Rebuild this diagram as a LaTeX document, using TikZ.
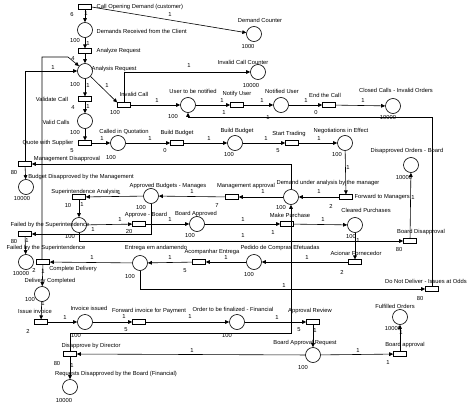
\documentclass[tikz,border=0pt]{standalone}
\usepackage{fontspec}
\setmainfont{Liberation Sans}
\usetikzlibrary{arrows.meta}
\begin{document}
\begin{tikzpicture}[x=1pt,y=-1pt,
  every node/.style={font=\fontsize{5.8}{6.5}\selectfont},
  place/.style={circle,draw,line width=0.6pt,minimum size=15pt,inner sep=0pt},
  trans/.style={rectangle,draw,line width=0.6pt,minimum width=13pt,minimum height=4.5pt,inner sep=0pt},
  arc/.style={draw,line width=0.6pt,-{Triangle[length=4pt,width=3.6pt]}},
  lbl/.style={inner sep=0.5pt},
  num/.style={inner sep=0pt}]
\fill[white] (0,0) rectangle (474,415);
\useasboundingbox (0,0) rectangle (474,415);
% places
\foreach \n/\x/\y in {pDR/85/30,pAR/85/71,pVC/85/121,pDC/254/34,pIC/258/72,pUN/188/105,pNU/281/105,pCC/393/106,pCQ/118/143,pBB/235/143,pNE/345/143,pDM/291/197,pAB/151/196,pBA/197/224,pCP/355/225,pDO/411/165,pSA/79/225,pBD/26/187,pFS/26/262,pEA/140/263,pPC/254/262,pDL/42/294,pII/85/322,pOF/237/322,pBR/313/355,pFO/400/317,pRD/70/387}
  \node[place] (\n) at (\x,\y) {};
% transitions
\foreach \n/\x/\y in {t1/85/7,t2/85/51,t3/85/99,t4/124/105,t5/237/105,t6/329/105,t7/85/143,t8/177/143,t9/292/143,t10/25/164,t11/79/197,t12/25/234,t13/43/262,t14/139/224,t15/232/197,t16/346/197,t17/287/224,t18/410/241,t19/355/262,t20/199/262,t21/41/322,t22/139/322,t23/70/354,t24/313/322,t25/400/354,t26/432/289}
  \node[trans] (\n) at (\x,\y) {};
% labels
\node[lbl,anchor=west] (l1) at (96,7) {Call Opening Demand (customer)};
\node[lbl,anchor=west] (l2) at (96,31) {Demands Received from the Client};
\node[lbl,anchor=west] (l3) at (96,51) {Analyze Request};
\node[lbl,anchor=west] (l4) at (91,69) {Analysis Request};
\node[lbl] (l5) at (52,99) {Validate Call};
\node[lbl] (l6) at (56,122) {Valid Calls};
\node[lbl] (l7) at (260,20) {Demand Counter};
\node[lbl] (l8) at (243,62) {Invalid Call Counter};
\node[lbl] (l9) at (134,94) {Invalid Call};
\node[lbl] (l10) at (193,91) {User to be notified};
\node[lbl] (l11) at (237,94) {Notify User};
\node[lbl] (l12) at (282,91) {Notified User};
\node[lbl] (l13) at (325,95) {End the Call};
\node[lbl] (l14) at (396,90) {Closed Calls - Invalid Orders};
\node[lbl] (l15) at (124,132) {Called in Quotation};
\node[lbl] (l16) at (177,133) {Build Budget};
\node[lbl] (l17) at (237,131) {Build Budget};
\node[lbl] (l18) at (289,134) {Start Trading};
\node[lbl] (l19) at (341,131) {Negotiations in Effect};
\node[lbl] (l20) at (48,143) {Quote with Supplier};
\node[lbl] (l21) at (67,159) {Management Disapproval};
\node[lbl] (l22) at (81,177) {Budget Disapproved by the Management};
\node[lbl] (l23) at (85,192) {Superintendence Analysis};
\node[lbl] (l24) at (50,225) {Failed by the Superintendence};
\node[lbl] (l25) at (46,248) {Failed by the Superintendence};
\node[lbl] (l26) at (73,269) {Complete Delivery};
\node[lbl] (l27) at (50,281) {Delivery Completed};
\node[lbl] (l28) at (35,311) {Issue invoice};
\node[lbl] (l29) at (89,308) {Invoice issued};
\node[lbl] (l30) at (149,311) {Forward invoice for Payment};
\node[lbl] (l31) at (233,309) {Order to be finalized - Financial};
\node[lbl] (l32) at (91,346) {Disapprove by Director};
\node[lbl] (l33) at (116,374) {Requests Disapproved by the Board (Financial)};
\node[lbl] (l34) at (310,311) {Approval Review};
\node[lbl] (l35) at (305,343) {Board Approval Request};
\node[lbl] (l36) at (405,345) {Board approval};
\node[lbl] (l37) at (395,306) {Fulfilled Orders};
\node[lbl] (l38) at (426,281) {Do Not Deliver - Issues at Odds};
\node[lbl] (l39) at (156,248) {Entrega em andamendo};
\node[lbl] (l40) at (212,252) {Acompanhar Entrega};
\node[lbl] (l41) at (280,248) {Pedido de Compras Efetuadas};
\node[lbl] (l42) at (356,253) {Acionar Fornecedor};
\node[lbl] (l43) at (366,210) {Cleared Purchases};
\node[lbl] (l44) at (421,232) {Board Disapproval};
\node[lbl] (l45) at (407,151) {Disapproved Orders - Board};
\node[lbl,anchor=west] (l46) at (354,197) {Forward to Managers};
\node[lbl] (l47) at (328,183) {Demand under analysis by the manager};
\node[lbl] (l48) at (246,186) {Management approval};
\node[lbl] (l49) at (168,186) {Approved Budgets - Manages};
\node[lbl] (l50) at (146,215) {Approve - Board};
\node[lbl] (l51) at (196,214) {Board Approved};
\node[lbl] (l52) at (290,215.5) {Make Purchase};
% arcs
\draw[arc] (t1) -- (pDR);
\draw[arc] (t1.east) -- (pDC);
\draw[arc] (pDR) -- (t2);
\draw[arc] (t2) -- (pAR);
\draw[arc] (pAR) -- (t3);
\draw[arc] (t3) -- (pVC);
\draw[arc] (pVC) -- (t7);
\draw[arc] (t7) -- (pCQ);
\draw[arc] (pCQ) -- (t8);
\draw[arc] (t8) -- (pBB);
\draw[arc] (pBB) -- (t9);
\draw[arc] (t9) -- (pNE);
\draw[arc] (pNE) -- (t16);
\draw[arc] (t16) -- (pDM);
\draw[arc] (pDM) -- (t15);
\draw[arc] (t15) -- (pAB);
\draw[arc] (pAB) -- (t11);
\draw[arc] (t11) -- (pSA);
\draw[arc] (pSA) -- (t14);
\draw[arc] (t14) -- (pBA);
\draw[arc] (pBA) -- (t17);
\draw[arc] (t17) -- (pCP);
\draw[arc] (pCP) -- (t19);
\draw[arc] (t19) -- (pPC);
\draw[arc] (pPC) -- (t20);
\draw[arc] (t20) -- (pEA);
\draw[arc] (pEA) -- (t13);
\draw[arc] (t13) -- (pDL);
\draw[arc] (pDL) -- (t21);
\draw[arc] (t21) -- (pII);
\draw[arc] (pII) -- (t22);
\draw[arc] (t22) -- (pOF);
\draw[arc] (pOF) -- (t24);
\draw[arc] (t24) -- (pBR);
\draw[arc] (pBR) -- (t25);
\draw[arc] (pBR) -- (t23);
\draw[arc] (t25) -- (pFO);
\draw[arc] (t23) -- (pRD);
\draw[arc] (t18) -- (pDO);
\draw[arc] (t10) -- (pBD);
\draw[arc] (t12) -- (pFS);
\draw[arc] (pAR) -- (t4.north west);
\draw[arc] (t4) -- (pUN);
\draw[arc] (pUN) -- (t5);
\draw[arc] (t5) -- (pNU);
\draw[arc] (pNU) -- (t6);
\draw[arc] (t6) -- (pCC);
\draw[arc] (t4.north) |- (pIC.west);
\draw[arc] (pEA.south) |- (t26.west);
\draw[arc] (t26.north) -- (t26.north |- 0,117) -| (pUN.south);
\draw[arc] (t23.north) -- (t23.north |- 0,333) -| (pDM.south);
\draw[arc] (pDM.north) |- (t10.east);
\draw[arc] (pSA.south) |- (t18.west);
\draw[arc] (pAB.south) |- (t12.east);
\draw[arc] (t10.north) |- (pAR.west);
\coordinate (cB) at (68,57);
\draw[arc] (t13.north -| 42,0) -- (42,57) -- (cB) -- (pAR);
% weights and numbers
\foreach \x/\y/\t [count=\i] in {86/14/1,170/15/1,88/44/1,73/59/4,53/68/1,88/86/1,107/86/1,88/107/1,189/66/1,157/101/1,222/101/1,262/101/1,306/101/1,363/101/1,224/113/1,268/118/1,102/139/1,150/139/1,209/139/1,266/139/1,319/139/1,348/168/1,319/192/1,263/192/1,192/192/1,119/193/1,82/205/1,120/220/1,93/230/1,27/241/1,170/220/1,243/220/1,323/220/1,243/236/1,273/233/1,358/241/1,413/198/1,307/258/1,226/258/1,170/258/1,92/258/1,43/272/1,43/304/1,65/318/1,124/317/1,190/317/1,277/318/1,315/331/1,284/286/1,192/351/1,358/351/1,72/366/1,401/333/1}
  \node[num] (w\i) at (\x,\y) {\t};
\foreach \x/\y/\t [count=\i] in {72/15/6,75/41/100,75/85/100,75/133/100,248/47/1000,251/86/10000,173/117/100,388/118/10000,115/113/100,316/113/0,73/108/4,72/151/5,111/158/100,165/151/0,229/155/100,278/151/5,337/155/100,14/173/80,22/199/10000,68/206/10,70/237/100,14/242/80,21/274/10000,34/270/2,141/208/100,217/206/7,331/206/2,281/208/100,129/232/20,190/236/100,351/237/100,399/250/80,404/178/10000,342/272/2,185/271/5,130/276/100,249/275/100,30/300/100,28/331/2,76/335/100,126/330/5,227/335/100,299/330/5,57/363/80,303/367/100,64/400/10000,393/328/10000,388/363/1,420/298/80}
  \node[num] (m\i) at (\x,\y) {\t};
\end{tikzpicture}
\end{document}
